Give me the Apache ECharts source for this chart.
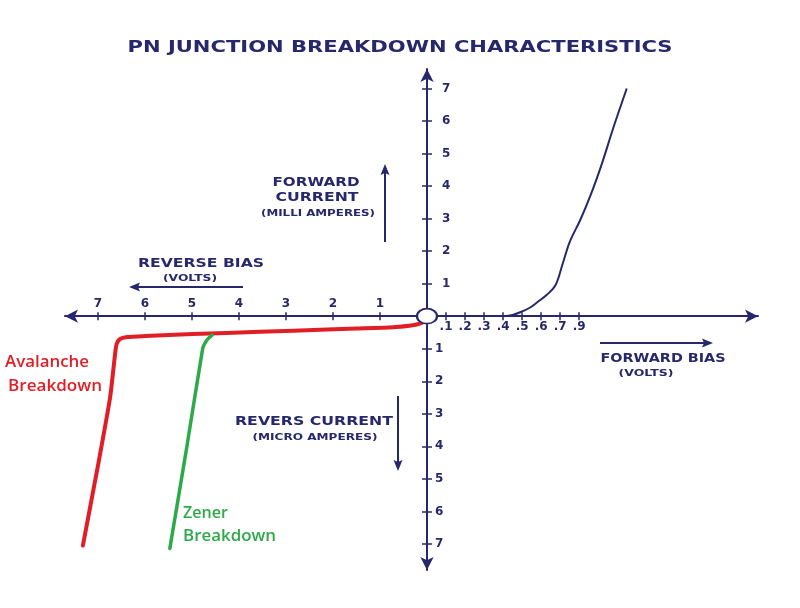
<!DOCTYPE html>
<html><head><meta charset="utf-8">
<script src="https://cdn.jsdelivr.net/npm/echarts@6/dist/echarts.min.js"></script>
<style>html,body{margin:0;padding:0;background:#fff}#c{width:800px;height:608px}</style>
</head><body><div id="c"></div>
<script>
const NAVY = '#27286b';
const RED = '#e01e25';
const GREEN = '#2ea94a';

// Forward bias curve: volts vs milliamperes
const forwardVolts   = [0.40, 0.45, 0.49, 0.54, 0.58, 0.63, 0.675, 0.71, 0.75, 0.805, 0.86, 0.92, 0.98, 1.05];
const forwardCurrent = [0,    0.04, 0.12, 0.26, 0.43, 0.66, 0.95,  1.55, 2.28, 2.95,  3.72, 4.7,  5.8,  7.0];

// Avalanche breakdown curve: reverse volts vs microamperes (negative)
const avalancheVolts   = [0, -0.05, -0.1, -0.3, -0.72, -1.5, -2.13, -3.55, -4.98, -6.0, -6.38, -6.53, -6.6, -6.63, -6.74, -7.0, -7.32];
const avalancheCurrent = [-0.05, -0.13, -0.2, -0.28, -0.34, -0.38, -0.41, -0.48, -0.55, -0.61, -0.64, -0.7, -0.85, -1.1, -2.49, -4.6, -7.05];

// Zener breakdown curve
const zenerVolts   = [-4.57, -4.65, -4.72, -4.77, -5.11, -5.47];
const zenerCurrent = [-0.58, -0.68, -0.82, -0.98, -4.03, -7.14];

// Tick values and labels
const reverseVoltTicks = [-1, -2, -3, -4, -5, -6, -7];
const forwardVoltTicks = [0.1, 0.2, 0.3, 0.4, 0.5, 0.6, 0.7, 0.8];
const forwardVoltLabels = ['.1', '.2', '.3', '.4', '.5', '.6', '.7', '.9'];
const forwardCurrentTicks = [1, 2, 3, 4, 5, 6, 7];
const reverseCurrentTicks = [-1, -2, -3, -4, -5, -6, -7];

const zip = (a, b) => a.map((v, i) => [v, b[i]]);

const ctx = document.createElement('canvas').getContext('2d');
function fitText(text, font, cx, cy, width, color) {
  ctx.font = font;
  const w = ctx.measureText(text).width || 1;
  return {
    type: 'text', x: cx, y: cy, scaleX: width / w, z: 100,
    style: { text: text, font: font, fill: color, align: 'center', verticalAlign: 'middle', textAlign: 'center', textVerticalAlign: 'middle' }
  };
}
function arrow(x1, y1, x2, y2, len, half, color, lw) {
  const dx = x2 - x1, dy = y2 - y1, d = Math.hypot(dx, dy);
  const ux = dx / d, uy = dy / d, px = -uy, py = ux;
  const bx = x2 - ux * len, by = y2 - uy * len;
  return {
    type: 'group', z: 100, children: [
      { type: 'line', shape: { x1: x1, y1: y1, x2: bx + ux * 2, y2: by + uy * 2 }, style: { stroke: color, lineWidth: lw } },
      { type: 'polygon', shape: { points: [[x2, y2], [bx + px * half, by + py * half], [bx + ux * 2, by + uy * 2], [bx - px * half, by - py * half]] }, style: { fill: color } }
    ]
  };
}

const labelFont = { color: NAVY, fontWeight: 'bold', fontSize: 12, fontFamily: '"DejaVu Sans", sans-serif' };
const Y_MIN = -7.8, Y_MAX = 7.6, X_REV_MIN = -7.7, X_FWD_MAX = 1.74;
const ORIGIN_Y = 316.2;           // pixel row of the horizontal axis
const tickStyle = { color: NAVY, width: 1.5 };
const noAxisLine = { show: false, onZero: false };
const ARROW = [10, 13];

const option = {
  backgroundColor: '#ffffff',
  animation: false,
  grid: [
    { left: 65, right: 373, top: ORIGIN_Y, bottom: 38 },          // reverse quadrant
    { left: 427, right: 42, top: 69, bottom: 608 - ORIGIN_Y },    // forward quadrant
    { left: 427, right: 42, top: ORIGIN_Y, bottom: 38 }           // reverse current axis
  ],
  xAxis: [
    { gridIndex: 0, type: 'value', min: X_REV_MIN, max: 0, position: 'top',
      axisLine: { onZero: false, lineStyle: { color: NAVY, width: 2 }, symbol: ['arrow', 'none'], symbolSize: ARROW },
      axisTick: { inside: false, length: 4, lineStyle: tickStyle, customValues: reverseVoltTicks },
      axisLabel: Object.assign({ margin: 6, customValues: reverseVoltTicks, formatter: v => String(Math.abs(v)) }, labelFont),
      splitLine: { show: false } },
    { gridIndex: 0, type: 'value', min: X_REV_MIN, max: 0, position: 'top',
      axisLine: noAxisLine,
      axisTick: { inside: true, length: 4, lineStyle: tickStyle, customValues: reverseVoltTicks },
      axisLabel: { show: false }, splitLine: { show: false } },
    { gridIndex: 1, type: 'value', min: 0, max: X_FWD_MAX, position: 'bottom',
      axisLine: { onZero: false, lineStyle: { color: NAVY, width: 2 }, symbol: ['none', 'arrow'], symbolSize: ARROW },
      axisTick: { inside: false, length: 4, lineStyle: tickStyle, customValues: forwardVoltTicks },
      axisLabel: Object.assign({ margin: 5, customValues: forwardVoltTicks, formatter: v => forwardVoltLabels[Math.round(v * 10) - 1] }, labelFont),
      splitLine: { show: false } },
    { gridIndex: 1, type: 'value', min: 0, max: X_FWD_MAX, position: 'bottom',
      axisLine: noAxisLine,
      axisTick: { inside: true, length: 4, lineStyle: tickStyle, customValues: forwardVoltTicks },
      axisLabel: { show: false }, splitLine: { show: false } },
    { gridIndex: 2, type: 'value', min: 0, max: X_FWD_MAX, show: false, splitLine: { show: false } }
  ],
  yAxis: [
    { gridIndex: 0, type: 'value', min: Y_MIN, max: 0, show: false, splitLine: { show: false } },
    { gridIndex: 1, type: 'value', min: 0, max: Y_MAX, position: 'left',
      axisLine: { onZero: false, lineStyle: { color: NAVY, width: 2 }, symbol: ['none', 'arrow'], symbolSize: ARROW },
      axisTick: { inside: true, length: 5, lineStyle: tickStyle, customValues: forwardCurrentTicks },
      axisLabel: Object.assign({ inside: true, margin: 15, customValues: forwardCurrentTicks, formatter: v => String(v) }, labelFont),
      splitLine: { show: false } },
    { gridIndex: 1, type: 'value', min: 0, max: Y_MAX, position: 'left',
      axisLine: noAxisLine,
      axisTick: { inside: false, length: 5, lineStyle: tickStyle, customValues: forwardCurrentTicks },
      axisLabel: { show: false }, splitLine: { show: false } },
    { gridIndex: 2, type: 'value', min: Y_MIN, max: 0, position: 'left',
      axisLine: { onZero: false, lineStyle: { color: NAVY, width: 2 }, symbol: ['arrow', 'none'], symbolSize: ARROW },
      axisTick: { inside: true, length: 5, lineStyle: tickStyle, customValues: reverseCurrentTicks },
      axisLabel: Object.assign({ inside: true, margin: 8, customValues: reverseCurrentTicks, formatter: v => String(Math.abs(v)) }, labelFont),
      splitLine: { show: false } },
    { gridIndex: 2, type: 'value', min: Y_MIN, max: 0, position: 'left',
      axisLine: noAxisLine,
      axisTick: { inside: false, length: 5, lineStyle: tickStyle, customValues: reverseCurrentTicks },
      axisLabel: { show: false }, splitLine: { show: false } }
  ],
  series: [
    { name: 'Avalanche Breakdown', type: 'line', xAxisIndex: 0, yAxisIndex: 0, data: zip(avalancheVolts, avalancheCurrent),
      showSymbol: false, smooth: 0.2, clip: false, lineStyle: { color: RED, width: 4, cap: 'round', join: 'round' }, z: 5 },
    { name: 'Zener Breakdown', type: 'line', xAxisIndex: 0, yAxisIndex: 0, data: zip(zenerVolts, zenerCurrent),
      showSymbol: false, smooth: 0.2, clip: false, lineStyle: { color: GREEN, width: 3.5, cap: 'round', join: 'round' }, z: 5 },
    { name: 'Forward', type: 'line', xAxisIndex: 2, yAxisIndex: 1, data: zip(forwardVolts, forwardCurrent),
      showSymbol: false, smooth: 0.35, clip: false, lineStyle: { color: NAVY, width: 2 }, z: 5 },
    { name: 'Origin', type: 'scatter', xAxisIndex: 2, yAxisIndex: 1, data: [[0, 0]], clip: false,
      symbol: 'circle', symbolSize: [20, 15], itemStyle: { color: '#ffffff', borderColor: NAVY, borderWidth: 2, opacity: 1 }, z: 10, silent: true }
  ],
  graphic: [
    fitText('PN JUNCTION BREAKDOWN CHARACTERISTICS', 'bold 15px "DejaVu Sans"', 400, 48, 545, NAVY),
    fitText('FORWARD', 'bold 12px "DejaVu Sans"', 316, 182.5, 87, NAVY),
    fitText('CURRENT', 'bold 12px "DejaVu Sans"', 317, 197.5, 83, NAVY),
    fitText('(MILLI AMPERES)', 'bold 9px "DejaVu Sans"', 318, 214, 114, NAVY),
    arrow(385, 242, 385, 164, 11, 4.5, NAVY, 2),
    fitText('REVERSE BIAS', 'bold 12px "DejaVu Sans"', 201, 263.5, 126, NAVY),
    fitText('(VOLTS)', 'bold 9px "DejaVu Sans"', 190, 279, 54, NAVY),
    arrow(243, 287, 129, 287, 11, 4.5, NAVY, 2),
    arrow(600, 343, 713, 343, 11, 4.5, NAVY, 2),
    fitText('FORWARD BIAS', 'bold 12px "DejaVu Sans"', 663, 358.5, 125, NAVY),
    fitText('(VOLTS)', 'bold 9px "DejaVu Sans"', 646, 374, 55, NAVY),
    fitText('REVERS CURRENT', 'bold 13px "DejaVu Sans"', 314, 422, 158, NAVY),
    fitText('(MICRO AMPERES)', 'bold 9px "DejaVu Sans"', 315, 437.5, 125, NAVY),
    arrow(398, 396, 398, 471, 11, 4.5, NAVY, 2),
    fitText('Avalanche', '600 17px "Open Sans"', 47, 362, 84, RED),
    fitText('Breakdown', '600 17px "Open Sans"', 55, 386, 94, RED),
    fitText('Zener', '600 17px "Open Sans"', 205.5, 513, 45, GREEN),
    fitText('Breakdown', '600 17px "Open Sans"', 229.5, 536, 93, GREEN)
  ]
};

const chart = echarts.init(document.getElementById('c'), null, { renderer: 'canvas' });
chart.setOption(option);
</script>
</body></html>
